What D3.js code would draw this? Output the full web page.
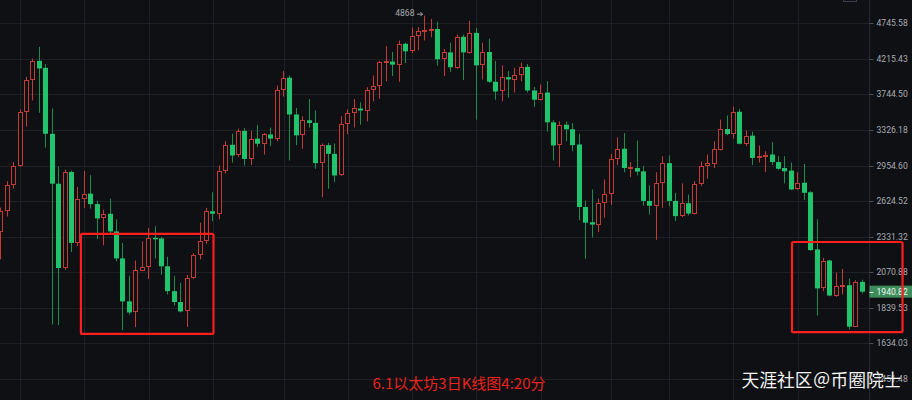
<!DOCTYPE html>
<html><head><meta charset="utf-8">
<script src="https://cdn.jsdelivr.net/npm/d3@7"></script>
<style>
html,body{margin:0;padding:0;background:#0e1013;overflow:hidden}
svg{display:block}
</style></head><body>
<svg id="c" width="912" height="400"></svg>
<script>
// ETH 3-day candles (index 0 = first visible candle)
const opens = [2367,2537,2765,2951,3529,3923,4188,4091,3284,2781,
2100,2892,2283,2642,2691,2598,2477,2516,2372,2168,
1879,1811,2082,2107,2322,2317,2112,1944,1875,1817,
2029,2195,2300,2537,2516,2898,3166,3055,3316,3020,
3232,3177,3277,3232,3804,3959,3502,3267,3435,3405,
2978,3162,3072,2858,3396,3522,3573,3549,3794,3847,
4170,4178,4135,4433,4322,4546,4620,4631,4656,4210,
4307,4091,4537,4298,4597,4125,4313,3906,3781,3966,
3932,3993,4104,3794,3679,3768,3412,3159,3385,3334,
3169,2573,2446,2427,2606,2691,3020,3125,2926,2930,
2898,2626,2584,2784,2978,2626,2496,2606,2518,2781,
2951,2971,3110,3337,3281,3534,3177,3264,3030,3047,
3065,2989,2930,2905,2728,2790,2703,2234,1962,2153,
1916,1977,1983,1727,2005];
const highs = [2568,2805,2989,3561,3972,4218,4388,4144,3573,2944,
2914,2905,2751,2902,2861,2629,2551,2645,2469,2283,
2046,2153,2295,2400,2413,2327,2180,2046,1999,2053,
2205,2442,2565,2703,2954,3204,3284,3341,3346,3316,
3385,3292,3353,3857,4046,3989,3581,3482,3687,3549,
3180,3187,3180,3482,3561,3687,3647,3834,3989,4188,
4397,4313,4482,4447,4680,4686,4868,4814,4771,4358,
4447,4571,4571,4787,4671,4447,4507,4188,4125,4046,
4091,4165,4144,3839,3870,3913,3435,3423,3423,3405,
3284,2629,2728,2645,2821,3072,3246,3292,2989,3211,
2951,2765,2889,3047,3055,2698,2784,2682,2805,2995,
3065,3204,3443,3490,3593,3569,3319,3308,3159,3099,
3194,3047,3047,2984,2889,2971,2712,2469,2173,2158,
2068,2093,2027,2016,2020];
const lows = [2161,2493,2735,2942,3364,3670,3522,3135,1740,1736,
2087,2214,2258,2565,2559,2312,2265,2345,2148,1707,
1798,1725,2080,2025,2168,2053,1923,1853,1811,1725,
2025,2161,2276,2455,2469,2877,2984,3041,2954,2960,
3141,3065,3152,3204,3717,3005,3162,3125,3353,2923,
2659,2735,2796,2852,3281,3353,3385,3423,3659,3690,
3913,3980,3906,4157,4298,4337,4482,4531,4121,3980,
4038,4078,3927,4288,3443,3936,3892,3679,3659,3706,
3768,3913,3768,3593,3670,3308,3005,2939,3204,3099,
2463,2166,2324,2367,2483,2592,2960,2889,2842,2858,
2584,2510,2307,2565,2578,2455,2488,2502,2510,2759,
2827,2930,3107,3267,3229,3170,3152,2960,2984,2889,
2960,2914,2784,2722,2724,2635,2225,1792,1944,1911,
1908,1923,1711,1724,1929];
const closes = [2537,2765,2951,3529,3923,4188,4082,3284,2781,2100,
2892,2283,2642,2691,2598,2477,2516,2372,2168,1879,
1811,2087,2104,2320,2315,2112,1944,1875,1817,2029,
2195,2300,2537,2516,2898,3166,3055,3316,3020,3232,
3177,3277,3232,3804,3959,3502,3267,3435,3405,2978,
3162,3072,2858,3396,3522,3573,3549,3804,3847,4174,
4184,4135,4433,4322,4546,4626,4635,4656,4210,4307,
4099,4537,4307,4597,4125,4313,3906,3781,3966,3936,
3993,4104,3794,3679,3768,3412,3159,3385,3334,3162,
2573,2442,2427,2606,2688,3020,3125,2930,2939,2895,
2626,2584,2784,2978,2626,2496,2606,2518,2781,2951,
2978,3117,3337,3281,3534,3177,3264,3030,3047,3065,
2989,2923,2898,2728,2790,2698,2229,1962,2153,1916,
1981,1983,1727,2005,1940.82];

const yTicks = [4745.58,4215.43,3744.50,3326.18,2954.60,2624.52,2331.32,2070.88,1839.53,1634.03,1451.48];
const monthGridIdx = [3,13,23,33,44,54,64,74,84,95,104,114,124];
const lastPrice = 1940.82;
const athIndex = 66, athText = "4868";
const caption = "6.1以太坊3日K线图4:20分";
const watermark = "天涯社区＠币圈院士";
const boxes = [{i0:12.47,i1:33.1,pHi:2353,pLo:1686},{i0:123.1,i1:140.3,pHi:2290,pLo:1696}];

const W = 912, H = 400, plotR = 869.5;
const UP_STROKE = "#c23b35", DOWN_FILL = "#1fc46d", DOWN_WICK = "#1a8f4d", BG = "#0e1013";

const svg = d3.select("#c");
svg.append("rect").attr("width",W).attr("height",H).attr("fill",BG);

const n = opens.length;
const x = d3.scaleBand().domain(d3.range(n)).range([-1.5, 864.3]).paddingInner(0.3);
const y = d3.scaleLog().domain([1634.03, 4745.58]).range([343.3, 23.3]);
const cx = i => x(0) + x.bandwidth()/2 + i * x.step();

// grid
const g = svg.append("g");
g.selectAll("line.h").data(yTicks).join("line")
  .attr("x1",0).attr("x2",plotR).attr("y1",d=>Math.round(y(d))+0.5).attr("y2",d=>Math.round(y(d))+0.5)
  .attr("stroke","#1d2025").attr("stroke-width",1);
g.selectAll("line.v").data(monthGridIdx).join("line")
  .attr("x1",d=>Math.round(cx(d))+0.5).attr("x2",d=>Math.round(cx(d))+0.5).attr("y1",0).attr("y2",H)
  .attr("stroke","#1d2025").attr("stroke-width",1);

// candles
const data = d3.range(n).map(i=>({i,o:opens[i],h:highs[i],l:lows[i],c:closes[i]}));
const cg = svg.append("g");
data.forEach(d=>{
  const up = d.c >= d.o;
  const bx = Math.round(cx(d.i) - 2.5);
  const wx = bx + 2.5;
  const top = y(Math.max(d.o,d.c)), bot = y(Math.min(d.o,d.c));
  const yh = y(d.h), yl = y(d.l);
  if (up) {
    const t = Math.round(top), b = Math.max(Math.round(bot), t+2);
    cg.append("line").attr("x1",wx).attr("x2",wx).attr("y1",yh).attr("y2",t).attr("stroke",UP_STROKE).attr("stroke-width",1);
    cg.append("line").attr("x1",wx).attr("x2",wx).attr("y1",b).attr("y2",yl).attr("stroke",UP_STROKE).attr("stroke-width",1);
    cg.append("rect").attr("x",bx+0.5).attr("y",t+0.5).attr("width",4).attr("height",b-t-1)
      .attr("fill",BG).attr("stroke",UP_STROKE).attr("stroke-width",1);
  } else {
    cg.append("line").attr("x1",wx).attr("x2",wx).attr("y1",yh).attr("y2",yl).attr("stroke",DOWN_WICK).attr("stroke-width",1);
    const t = top, hgt = Math.max(bot-top, 1.5);
    cg.append("rect").attr("x",bx).attr("y",t).attr("width",5).attr("height",hgt).attr("fill",DOWN_FILL);
  }
});

// axis separator
svg.append("line").attr("x1",plotR).attr("x2",plotR).attr("y1",0).attr("y2",H).attr("stroke","#262a30");

// y axis labels
const ax = svg.append("g").attr("font-family","Roboto, 'DejaVu Sans', sans-serif").attr("font-size","8.6px");
ax.selectAll("line").data(yTicks).join("line")
  .attr("x1",plotR).attr("x2",plotR+4).attr("y1",d=>Math.round(y(d))+0.5).attr("y2",d=>Math.round(y(d))+0.5)
  .attr("stroke","#4a4e56");
ax.selectAll("text").data(yTicks).join("text")
  .attr("x",876.5).attr("y",d=>y(d)).attr("dy","0.35em").attr("fill","#a9acb2")
  .text(d=>d.toFixed(2));

// top-right small box
svg.append("rect").attr("x",843.5).attr("y",-6).attr("width",13).attr("height",7.5)
  .attr("fill","none").attr("stroke","#3b3d55");

// last price label
const yl = y(lastPrice);
svg.append("rect").attr("x",plotR).attr("y",yl-6).attr("width",W-plotR).attr("height",12).attr("fill","#3c8c5c");
svg.append("line").attr("x1",plotR).attr("x2",plotR+4).attr("y1",Math.round(yl)+0.5).attr("y2",Math.round(yl)+0.5).attr("stroke","#e8f2ec");
svg.append("text").attr("x",876.5).attr("y",yl).attr("dy","0.35em")
  .attr("font-family","Roboto, 'DejaVu Sans', sans-serif").attr("font-size","8.6px").attr("fill","#eef5f0")
  .text(lastPrice.toFixed(2));

// ATH label
const ax0 = cx(athIndex), ay = y(highs[athIndex]);
svg.append("text").attr("x",ax0-10.5).attr("y",ay).attr("dy","0.05em").attr("text-anchor","end")
  .attr("font-family","Roboto, 'DejaVu Sans', sans-serif").attr("font-size","8.6px").attr("fill","#a9acb2")
  .text(athText);
svg.append("path").attr("d",`M${ax0-8},${ay-1.5}H${ax0-2.5}M${ax0-4.5},${ay-3.5}L${ax0-2.5},${ay-1.5}L${ax0-4.5},${ay+0.5}`)
  .attr("stroke","#a9acb2").attr("fill","none").attr("stroke-width",1);

// annotation boxes
svg.selectAll("rect.box").data(boxes).join("rect")
  .attr("x",d=>cx(d.i0)).attr("y",d=>y(d.pHi))
  .attr("width",d=>cx(d.i1)-cx(d.i0)).attr("height",d=>y(d.pLo)-y(d.pHi))
  .attr("rx",1.5).attr("fill","none").attr("stroke","#ff1e1e").attr("stroke-width",2.2);

// caption
svg.append("text").attr("x",459).attr("y",389).attr("text-anchor","middle")
  .attr("font-family","'Noto Sans CJK SC', sans-serif").attr("font-size","15px").attr("fill","#e8221d")
  .text(caption);

// watermark
svg.append("text").attr("x",741.5).attr("y",386.5)
  .attr("font-family","'Noto Sans CJK SC', sans-serif").attr("font-size","17.8px").attr("fill","#f4f4f4")
  .attr("stroke","#000").attr("stroke-opacity",0.25).attr("stroke-width",0.6).attr("paint-order","stroke")
  .text(watermark);
</script>
</body></html>
